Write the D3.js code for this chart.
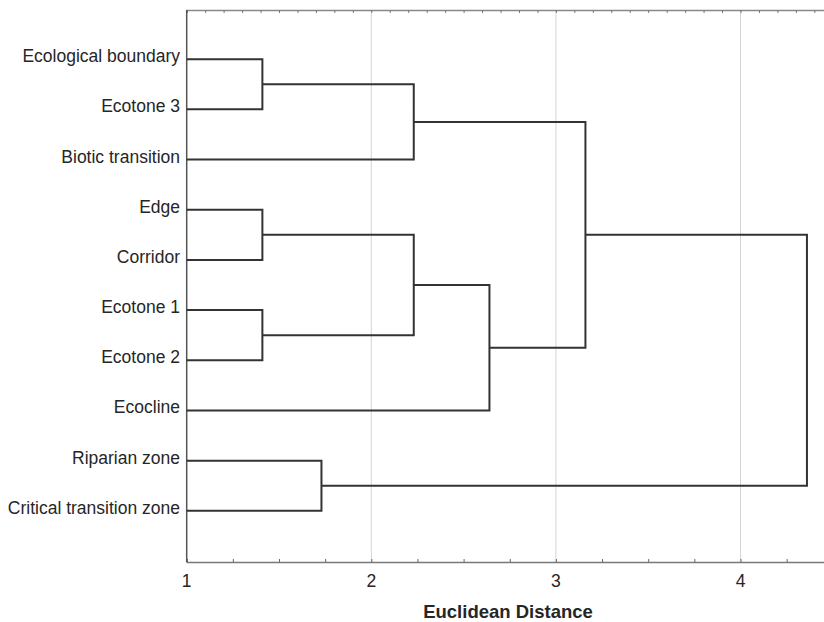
<!DOCTYPE html>
<html>
<head>
<meta charset="utf-8">
<script src="https://cdn.jsdelivr.net/npm/d3@7/dist/d3.min.js"></script>
<style>
  html, body { margin: 0; padding: 0; background: #fff; }
  svg { display: block; }
  text { font-family: "Liberation Sans", Arial, sans-serif; fill: #262626; }
</style>
</head>
<body>
<svg id="chart" width="824" height="622"></svg>
<script>
// Leaves (top to bottom)
const leaves = ["Ecological boundary", "Ecotone 3", "Biotic transition", "Edge", "Corridor",
                "Ecotone 1", "Ecotone 2", "Ecocline", "Riparian zone", "Critical transition zone"];
// Linkage: node index 10+i merges mergeA[i] and mergeB[i] at mergeDist[i]
const mergeA    = [0, 3, 5, 8, 10, 11, 15, 14, 17];
const mergeB    = [1, 4, 6, 9, 2, 12, 7, 16, 13];
const mergeDist = [1.41, 1.41, 1.41, 1.73, 2.23, 2.23, 2.64, 3.16, 4.36];
// Axis
const xTicks = [1, 2, 3, 4];
const xDomain = [1, 4.5];
const xTitle = "Euclidean Distance";

const svg = d3.select("#chart");
const m = { left: 186.7, top: 10, bottom: 562 };
const x = d3.scaleLinear().domain(xDomain).range([m.left, m.left + 3.5 * 184.6]);
const y = d3.scalePoint().domain(leaves).range([m.top - 1, m.bottom - 1]).padding(1);

// gridlines
svg.append("g").selectAll("line").data(xTicks.slice(1)).join("line")
  .attr("x1", d => x(d)).attr("x2", d => x(d))
  .attr("y1", m.top).attr("y2", m.bottom)
  .attr("stroke", "#d4d4d4").attr("stroke-width", 1);

// bottom axis
const bottomAxis = svg.append("g").attr("transform", `translate(0,${m.bottom})`)
  .call(d3.axisBottom(x).tickValues(d3.range(1, 4.51, 0.25)).tickSize(-3).tickFormat(""));
bottomAxis.select(".domain").attr("stroke", "#777").attr("stroke-width", 1.5);
bottomAxis.selectAll(".tick line").attr("stroke", "#666");
svg.append("g").selectAll("text").data(xTicks).join("text")
  .attr("x", d => x(d)).attr("y", 587)
  .attr("text-anchor", "middle").style("font-size", "17.5px").text(d => d);

// top axis
const topAxis = svg.append("g").attr("transform", `translate(0,${m.top})`)
  .call(d3.axisTop(x).tickValues(d3.range(1, 4.51, 0.1)).tickSize(-3).tickFormat(""));
topAxis.select(".domain").attr("stroke", "#888").attr("stroke-width", 1.5);
topAxis.selectAll(".tick line").attr("stroke", "#777");

// left axis line
svg.append("line").attr("x1", m.left).attr("x2", m.left)
  .attr("y1", m.top).attr("y2", m.bottom)
  .attr("stroke", "#555").attr("stroke-width", 1.5);

// leaf labels
svg.append("g").selectAll("text").data(leaves).join("text")
  .attr("x", 180).attr("y", d => y(d) + 3)
  .attr("text-anchor", "end").style("font-size", "17.5px").text(d => d);

// node positions
const nodeY = leaves.map(d => y(d));
const nodeX = leaves.map(() => x(1));
mergeA.forEach((a, i) => {
  nodeY.push((nodeY[a] + nodeY[mergeB[i]]) / 2);
  nodeX.push(x(mergeDist[i]));
});

const path = d3.path();
mergeA.forEach((a, i) => {
  const b = mergeB[i];
  const hx = x(mergeDist[i]);
  path.moveTo(nodeX[a], nodeY[a]);
  path.lineTo(hx, nodeY[a]);
  path.lineTo(hx, nodeY[b]);
  path.lineTo(nodeX[b], nodeY[b]);
});
svg.append("path").attr("d", path.toString())
  .attr("fill", "none").attr("stroke", "#333").attr("stroke-width", 2)
  .attr("stroke-linejoin", "miter");

// axis title
svg.append("text").attr("x", 508).attr("y", 618)
  .attr("text-anchor", "middle").style("font-size", "18.5px").style("font-weight", "bold")
  .text(xTitle);
</script>
</body>
</html>
